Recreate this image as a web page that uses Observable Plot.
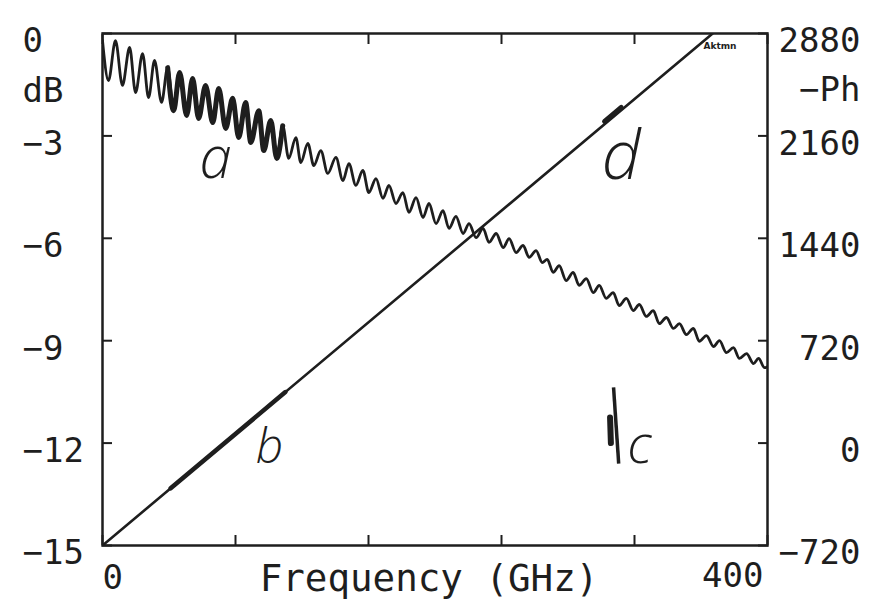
<!DOCTYPE html>
<html><head><meta charset="utf-8">
<script src="https://cdn.jsdelivr.net/npm/d3@7"></script>
<script src="https://cdn.jsdelivr.net/npm/@observablehq/plot@0.6"></script>
<style>
html,body{margin:0;padding:0;background:#fff;}
#chart{width:881px;height:600px;}
</style>
</head><body><div id="chart"></div>
<script>
// Magnitude trace (curve a): successive peaks/troughs
const magFreq = [
  0, 3.6, 7.8, 12.0, 16.3, 19.9, 24.1, 27.7, 31.3, 35.5,
  39.2, 42.8, 46.4, 50.6, 54.2, 57.8, 62.0, 66.3, 69.9, 74.1,
  78.3, 81.9, 86.1, 89.2, 94.0, 97.0, 101.2, 104.8, 108.4, 112.0,
  116.3, 119.3, 123.5, 127.1, 131.3, 135.5, 140.4, 144.6, 148.2, 152.4,
  156.6, 160.2, 164.5, 168.7, 172.3, 176.5, 180.7, 184.3, 188.6, 192.8,
  196.4, 200.6, 204.8, 208.4, 212.6, 216.9, 220.5, 224.7, 228.9, 232.5,
  236.8, 241.0, 244.6, 248.8, 253.0, 256.6, 260.8, 264.5, 267.5, 271.1,
  274.7, 278.9, 283.1, 286.7, 291.0, 295.2, 298.8, 303.0, 307.2, 310.8,
  315.1, 319.3, 322.9, 327.1, 331.3, 334.9, 339.2, 343.4, 347.0, 351.2,
  355.4, 359.0, 363.3, 367.5, 371.1, 375.3, 379.5, 383.1, 387.4, 391.6,
  394.6, 398.2, 400
];
const magDb = [
  -0.21, -1.38, -0.21, -1.52, -0.41, -1.73, -0.59, -1.88, -0.79, -2.02,
  -1.00, -2.26, -1.14, -2.40, -1.32, -2.49, -1.52, -2.61, -1.61, -2.78,
  -1.90, -3.05, -2.02, -3.19, -2.26, -3.43, -2.55, -3.66, -2.70, -3.66,
  -3.05, -3.78, -3.22, -3.87, -3.43, -4.10, -3.63, -4.31, -3.81, -4.45,
  -4.01, -4.66, -4.25, -4.83, -4.45, -4.98, -4.66, -5.24, -4.81, -5.39,
  -4.98, -5.57, -5.19, -5.71, -5.36, -5.86, -5.57, -5.98, -5.71, -6.12,
  -5.86, -6.27, -6.01, -6.42, -6.21, -6.56, -6.36, -6.71, -6.62, -7.00,
  -6.80, -7.24, -7.00, -7.38, -7.18, -7.59, -7.38, -7.76, -7.59, -7.97,
  -7.76, -8.12, -7.94, -8.29, -8.12, -8.50, -8.32, -8.64, -8.50, -8.82,
  -8.64, -9.02, -8.85, -9.17, -9.00, -9.35, -9.20, -9.52, -9.38, -9.67,
  -9.52, -9.79, -9.76
];
// Highlighted band on curve a (GHz)
const bandA = [39, 110];

// Phase trace (-Ph, degrees)
const phaseFreq = [0, 367];
const phaseDeg = [-720, 2880];
// thick stretch b on the phase trace
const bFreq = [41, 110];
const bDeg = [-318, 359];
// blip d on the phase trace
const dFreq = [302, 312];
const dDeg = [2262, 2360];
// mark c (GHz, dB)
const cFreq = [307.4, 310.5];
const cDb = [-10.37, -12.6];
const cBlobFreq = [305.3, 305.8];
const cBlobDb = [-11.25, -12.0];

// Axis ticks and labels
const dbTicks = [0, -3, -6, -9, -12, -15];
const phaseTicks = [2880, 2160, 1440, 720, 0, -720];
const freqTicks = [0, 80, 160, 240, 320, 400];
const freqLabels = [0, 400];
const xTitle = "Frequency (GHz)";
const leftUnit = "dB";
const rightUnit = "\u2212Ph";
const badge = "Aktmn";

// Handwritten annotations
const noteText = ["a", "b", "c", "d"];
const noteFreq = [68, 100.5, 323, 312];
const noteDb = [-4.22, -12.57, -12.57, -4.25];

// ---- build
const mag = magFreq.map((f, i) => ({f, v: magDb[i]}));
const magBand = mag.filter(d => d.f >= bandA[0] && d.f <= bandA[1]);
const toDb = p => -15 + (p + 720) / 240;   // phase -> left scale
const toPh = v => (v + 15) * 240 - 720;
const phase = phaseFreq.map((f, i) => ({f, p: phaseDeg[i]}));
const bSeg = bFreq.map((f, i) => ({f, p: bDeg[i]}));
const dSeg = dFreq.map((f, i) => ({f, p: dDeg[i]}));
const notes = noteText.map((t, i) => ({t, f: noteFreq[i], v: noteDb[i]}));
const noteSize = {a: 58, b: 48, c: 54, d: 68};
const fmt = d => d < 0 ? "\u2212" + Math.abs(d) : String(d);
const ink = "#1e1e1e";

const chart = Plot.plot({
  width: 881, height: 600,
  marginLeft: 102, marginRight: 114, marginTop: 33, marginBottom: 55,
  style: {fontFamily: "DejaVu Sans Mono", fontSize: "34px", color: ink, background: "#fff"},
  x: {domain: [0, 400]},
  y: {domain: [-15, 0]},
  marks: [
    // inward ticks
    Plot.axisX(freqTicks, {anchor: "bottom", tickSize: -10, strokeWidth: 2, tickFormat: () => "", label: null}),
    Plot.axisX(freqTicks, {anchor: "top", tickSize: -10, strokeWidth: 2, tickFormat: () => "", label: null}),
    Plot.axisY(dbTicks, {anchor: "left", tickSize: -10, strokeWidth: 2, tickFormat: () => "", label: null}),
    Plot.axisY(dbTicks, {anchor: "right", tickSize: -10, strokeWidth: 2, tickFormat: () => "", label: null}),
    // tick labels
    Plot.axisY(dbTicks, {anchor: "left", tickSize: 0, tickPadding: 0, textAnchor: "start", dx: -80, dy: 8, tickFormat: fmt, label: null, fill: ink}),
    Plot.axisY(dbTicks, {anchor: "right", tickSize: 0, tickPadding: 0, textAnchor: "end", dx: 93, dy: 8, tickFormat: d => fmt(Math.round(toPh(d))), label: null, fill: ink}),
    Plot.text([leftUnit], {frameAnchor: "top-left", dx: -80, dy: 58, textAnchor: "start", lineAnchor: "middle", fill: ink}),
    Plot.text([rightUnit], {frameAnchor: "top-right", dx: 93, dy: 57, textAnchor: "end", lineAnchor: "middle", fill: ink}),
    Plot.text([freqLabels[0]], {x: d => d, frameAnchor: "bottom", dy: 33, textAnchor: "start", lineAnchor: "middle", fill: ink}),
    Plot.text([freqLabels[1]], {x: d => d, frameAnchor: "bottom", dy: 31, dx: -4, textAnchor: "end", lineAnchor: "middle", fill: ink}),
    Plot.text([xTitle], {frameAnchor: "bottom", dy: 33, dx: -6, lineAnchor: "middle", fill: ink, fontSize: 37.5}),
    Plot.text([badge], {frameAnchor: "top-right", dx: -31, dy: 9, fontSize: 9, fontWeight: "bold", fontFamily: "DejaVu Sans", fill: ink}),
    // traces
    Plot.line(phase, {x: "f", y: d => toDb(d.p), stroke: ink, strokeWidth: 2.6, clip: true}),
    Plot.line(bSeg, {x: "f", y: d => toDb(d.p), stroke: ink, strokeWidth: 4.5}),
    Plot.line(dSeg, {x: "f", y: d => toDb(d.p), stroke: ink, strokeWidth: 5}),
    Plot.line(mag, {x: "f", y: "v", curve: "monotone-x", stroke: ink, strokeWidth: 2.8, clip: true}),
    Plot.line(magBand, {x: "f", y: "v", curve: "monotone-x", stroke: ink, strokeWidth: 5}),
    Plot.link([0], {x1: () => cFreq[0], y1: () => cDb[0], x2: () => cFreq[1], y2: () => cDb[1], stroke: ink, strokeWidth: 3.5}),
    Plot.link([0], {x1: () => cBlobFreq[0], y1: () => cBlobDb[0], x2: () => cBlobFreq[1], y2: () => cBlobDb[1], stroke: ink, strokeWidth: 6, strokeLinecap: "round"}),
    // annotations
    ...notes.map(n => Plot.text([n], {x: "f", y: "v", text: "t", lineAnchor: "bottom", fontFamily: "Open Sans", fontStyle: "italic", fontWeight: 300, fontSize: noteSize[n.t], fill: ink})),
    Plot.frame({stroke: ink, strokeWidth: 2.5})
  ]
});
document.getElementById("chart").appendChild(chart);
</script>
</body></html>
